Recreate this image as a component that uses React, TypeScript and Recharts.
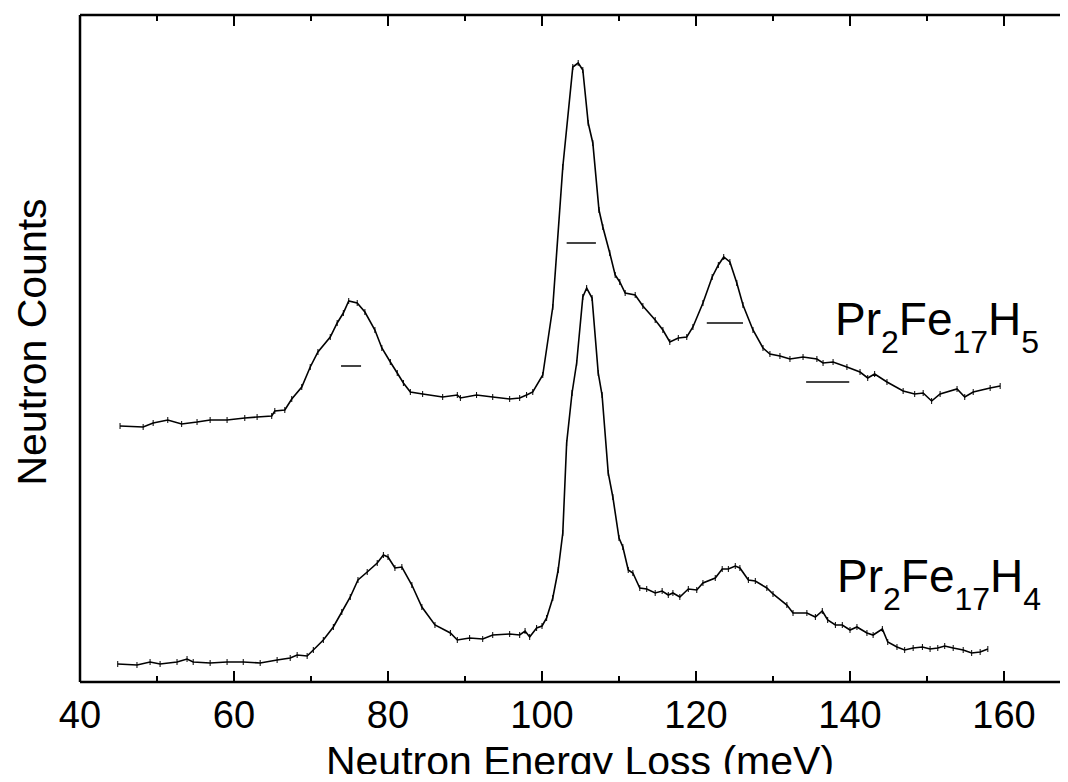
import React from 'react';
import { LineChart, Line, XAxis, YAxis, ErrorBar, ReferenceLine } from 'recharts';

// Pr2Fe17H5 (upper trace): energy loss (meV) and counts (arb. units)
const h5Energy = [45.2, 48.2, 49.5, 51.4, 53.2, 55.2, 56.9, 59.1, 61.4, 63.0, 64.9, 65.3, 66.6, 67.5, 68.8, 69.9, 70.9, 72.5, 73.4, 74.2, 74.9, 76.0, 77.0, 78.3, 79.2, 80.3, 81.2, 82.0, 82.9, 84.5, 87.1, 89.0, 89.4, 91.5, 93.6, 95.8, 97.1, 98.0, 98.8, 100.1, 101.4, 102.7, 104.0, 104.7, 105.3, 106.0, 106.6, 107.4, 107.9, 108.8, 109.5, 110.1, 110.8, 112.1, 113.1, 114.7, 115.7, 116.6, 117.7, 118.8, 119.6, 120.9, 122.1, 122.9, 123.6, 124.4, 125.3, 126.1, 127.4, 128.7, 129.6, 130.9, 132.2, 133.9, 135.7, 136.5, 137.8, 139.6, 141.3, 142.3, 143.2, 144.8, 146.9, 148.4, 149.5, 150.6, 151.7, 153.9, 154.9, 156.0, 158.2, 159.5];
const h5Counts = [256, 255, 259, 262, 258, 260, 262, 262, 264, 265, 266, 271, 272, 283, 295, 315, 330, 345, 359, 369, 381, 379, 370, 352, 334, 320, 309, 299, 290, 288, 285, 287, 284, 287, 285, 283, 284, 287, 290, 307, 375, 515, 615, 619, 612, 559, 539, 472, 455, 429, 407, 400, 389, 387, 376, 362, 352, 340, 344, 345, 355, 379, 405, 417, 425, 420, 399, 377, 352, 334, 328, 326, 323, 325, 323, 319, 320, 315, 310, 304, 308, 300, 291, 288, 289, 281, 288, 293, 285, 290, 294, 296];

// Pr2Fe17H4 (lower trace)
const h4Energy = [44.9, 47.4, 49.1, 50.4, 52.6, 53.9, 54.7, 56.9, 59.1, 61.2, 63.4, 65.6, 67.3, 68.2, 69.5, 70.3, 71.6, 72.9, 74.0, 75.1, 76.1, 77.3, 78.6, 79.4, 80.0, 80.9, 81.8, 83.1, 84.4, 86.1, 88.1, 89.0, 90.6, 92.3, 93.6, 95.8, 97.1, 97.8, 98.4, 99.3, 100.0, 100.6, 101.4, 102.1, 102.7, 103.2, 103.9, 104.5, 105.3, 105.8, 106.5, 107.3, 107.8, 108.6, 109.2, 110.0, 110.5, 111.2, 111.8, 112.7, 113.6, 114.7, 115.6, 116.4, 117.0, 117.9, 119.0, 120.1, 120.9, 122.5, 123.4, 124.2, 125.1, 125.7, 126.8, 127.7, 129.2, 130.0, 131.8, 132.6, 134.4, 135.5, 136.4, 137.1, 138.1, 139.0, 140.0, 140.9, 142.2, 143.0, 144.2, 144.9, 146.1, 147.1, 148.2, 149.4, 150.4, 151.4, 152.3, 153.4, 154.7, 155.8, 156.9, 157.9];
const h4Counts = [18, 17, 20, 18, 20, 23, 20, 19, 20, 20, 19, 22, 24, 27, 26, 32, 42, 55, 70, 85, 102, 110, 119, 127, 125, 114, 115, 97, 75, 57, 49, 42, 44, 43, 47, 48, 47, 51, 45, 54, 56, 64, 84, 112, 149, 239, 289, 319, 385, 394, 384, 309, 287, 209, 185, 144, 135, 112, 109, 94, 93, 89, 91, 87, 89, 85, 93, 92, 99, 104, 113, 113, 116, 114, 102, 101, 94, 88, 77, 69, 69, 65, 71, 62, 57, 57, 52, 55, 49, 47, 53, 40, 35, 32, 34, 35, 33, 34, 36, 34, 32, 29, 30, 33];

const countError = 3;

// instrumental resolution bars drawn under the upper trace
const resStart = [73.9, 103.2, 121.4, 134.3];
const resEnd = [76.5, 107.0, 126.1, 139.9];
const resLevel = [316, 439, 359, 300];

const xTicks = [40, 50, 60, 70, 80, 90, 100, 110, 120, 130, 140, 150, 160];
const xDomain = [40, 168.31];
const yDomain = [0, 667];

const h5Data = h5Energy.map((e, i) => ({ e, v: h5Counts[i], err: countError }));
const h4Data = h4Energy.map((e, i) => ({ e, v: h4Counts[i], err: countError }));

const FONT = '"Liberation Sans", Arial, Helvetica, sans-serif';

const BottomTick = (props: any) => {
  const { x, y, payload } = props;
  const major = payload.value % 20 === 0;
  return (
    <g>
      <line x1={x} x2={x} y1={y} y2={y - (major ? 11 : 6)} stroke="#000" strokeWidth={2} />
      {major && (
        <text x={x} y={y + 46} textAnchor="middle" fontSize={38} fontFamily={FONT} fill="#000">
          {payload.value}
        </text>
      )}
    </g>
  );
};

const TopTick = (props: any) => {
  const { x, y, payload } = props;
  const major = payload.value % 20 === 0;
  return <line x1={x} x2={x} y1={y} y2={y + (major ? 11 : 6)} stroke="#000" strokeWidth={2} />;
};

const W = 1060;
const H = 774;

const Compound = ({ x, y, n }: { x: number; y: number; n: string }) => (
  <text x={x} y={y} fontSize={46} fontFamily={FONT} fill="#000">
    Pr
    <tspan fontSize={32} dy={18}>2</tspan>
    <tspan dy={-18}>Fe</tspan>
    <tspan fontSize={32} dy={18}>17</tspan>
    <tspan dy={-18}>H</tspan>
    <tspan fontSize={32} dy={18}>{n}</tspan>
  </text>
);

export default function App() {
  return (
    <div style={{ position: 'relative', width: W, height: H, marginBottom: -8, overflow: 'hidden' }}>
      <LineChart width={W} height={H} margin={{ top: 0, right: 0, bottom: 0, left: 0 }}>
        <XAxis xAxisId={0} type="number" dataKey="e" domain={xDomain} ticks={xTicks} interval={0} allowDataOverflow height={100} tickSize={0} tickMargin={0} tick={<BottomTick />} tickLine={false} axisLine={{ stroke: '#000', strokeWidth: 2.5 }} />
        <XAxis xAxisId="top" orientation="top" type="number" dataKey="e" domain={xDomain} ticks={xTicks} interval={0} allowDataOverflow height={7} tickSize={0} tickMargin={0} tick={<TopTick />} tickLine={false} axisLine={{ stroke: '#000', strokeWidth: 2.5 }} />
        <YAxis type="number" domain={yDomain} allowDataOverflow width={72} tick={false} tickLine={false} axisLine={{ stroke: '#000', strokeWidth: 2.5 }} />
        {resStart.map((s, i) => (
          <ReferenceLine key={i} segment={[{ x: s, y: resLevel[i] }, { x: resEnd[i], y: resLevel[i] }]} stroke="#444" strokeWidth={2} ifOverflow="visible" />
        ))}
        <Line data={h5Data} dataKey="v" type="linear" stroke="#000" strokeWidth={1.6} dot={false} isAnimationActive={false}>
          <ErrorBar dataKey="err" width={0} stroke="#000" strokeWidth={1} direction="y" isAnimationActive={false} />
        </Line>
        <Line data={h4Data} dataKey="v" type="linear" stroke="#000" strokeWidth={1.6} dot={false} isAnimationActive={false}>
          <ErrorBar dataKey="err" width={0} stroke="#000" strokeWidth={1} direction="y" isAnimationActive={false} />
        </Line>
      </LineChart>
      <svg width={W} height={H} style={{ position: 'absolute', left: 0, top: 0, pointerEvents: 'none' }}>
        <text x={572} y={767} textAnchor="middle" fontSize={41} fontFamily={FONT} fill="#000">Neutron Energy Loss (meV)</text>
        <text x={0} y={0} transform="translate(38,334) rotate(-90)" textAnchor="middle" fontSize={41} fontFamily={FONT} fill="#000">Neutron Counts</text>
        <Compound x={827} y={327} n="5" />
        <Compound x={829} y={584} n="4" />
      </svg>
    </div>
  );
}
